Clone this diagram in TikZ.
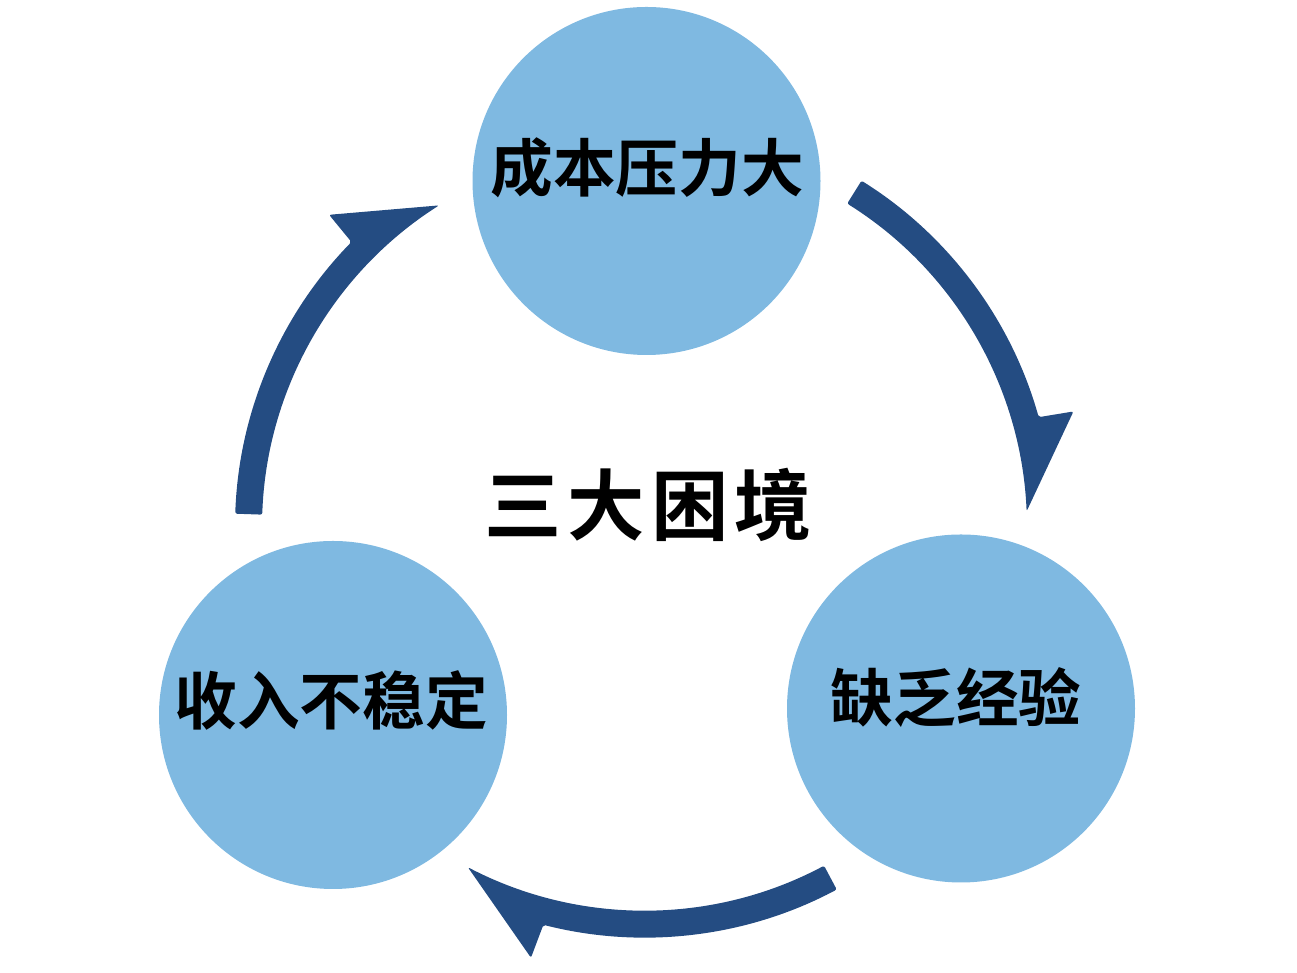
\documentclass[tikz,border=0pt]{standalone}
\usepackage{fontspec}
\newfontfamily\cjk{Noto Sans CJK SC}[BoldFont={* Bold}]
\newfontfamily\cjkwide{Noto Sans CJK SC}[BoldFont={* Bold},LetterSpace=8]
\definecolor{circblue}{HTML}{7FB9E1}
\definecolor{arrowblue}{HTML}{244C82}
\begin{document}
\begin{tikzpicture}[x=0.75pt, y=0.75pt, line join=round]
	\tikzset{bubble/.style={circle, fill=circblue, inner sep=0pt, minimum size=261pt},
		tag/.style={font=\cjk\bfseries\fontsize{47}{50}\selectfont, inner sep=0pt}}
	\useasboundingbox (0,0) rectangle (1297,973);
	\coordinate (hub) at (644.5,445);
	\node[bubble] (cost) at (646.5,792) {};
	\node[bubble] (income) at (333,258) {};
	\node[bubble] (skill) at (961,264.5) {};
	\node[tag] (costtxt) at (647,805) {成本压力大};
	\node[tag] (incometxt) at (331,273) {收入不稳定};
	\node[tag] (skilltxt) at (956,275) {缺乏经验};
	\node[font=\cjkwide\bfseries\fontsize{58}{60}\selectfont, inner sep=0pt] (title) at (648,468) {三大困境};
	\foreach \a in {58,-62,178}
		\fill[arrowblue, rounded corners=1.5pt, shift={(hub)}] ({\a}:409.5)
			arc[start angle=\a, end angle=\a-42.3, radius=409.5]
			-- ({\a-42.8}:444.5) -- ({\a-55.5}:382.5)
			arc[start angle=\a-55.5, end angle=\a, radius=382.5] -- cycle;
\end{tikzpicture}
\end{document}
